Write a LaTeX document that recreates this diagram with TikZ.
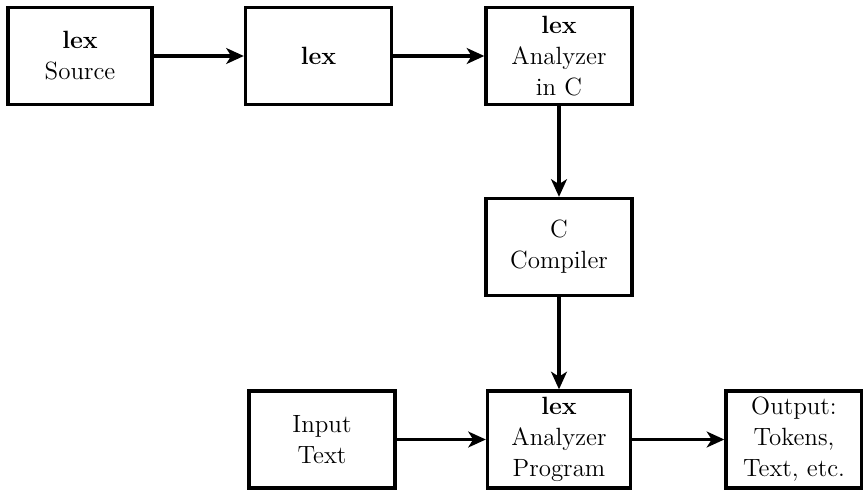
\documentclass[tikz,border=0pt]{standalone}
\usepackage{tikz}
\usetikzlibrary{arrows.meta}

\tikzset{
  stagebox/.style={draw, line width=1.9pt, minimum width=2.92cm, minimum height=1.94cm,
    align=center, inner sep=0pt, font=\fontsize{14.2}{17.6}\selectfont},
  flow/.style={line width=1.8pt, -{Stealth[length=10pt, width=9pt, inset=2.8pt]}}
}

\begin{document}
\begin{tikzpicture}
  \useasboundingbox (0,0) rectangle (17.26,9.78);

  % Top row
  \node[stagebox, minimum width=2.88cm] (src) at (1.60,8.66) {\textbf{lex}\\Source};
  \node[stagebox] (lexprog) at (6.37,8.66) {\textbf{lex}};
  \node[stagebox] (anac) at (11.18,8.66) {\textbf{lex}\\Analyzer\\in C};

  % Middle
  \node[stagebox] (cc) at (11.18,4.84) {C\\Compiler};

  % Bottom row
  \node[stagebox] (input) at (6.44,0.99) {Input\\Text};
  \node[stagebox, minimum width=2.86cm] (prog) at (11.18,0.99) {\textbf{lex}\\Analyzer\\Program};
  \node[stagebox, minimum width=2.72cm] (out) at (15.88,0.99) {Output:\\Tokens,\\Text, etc.};

  % Connectors
  \draw[flow] (src) -- (lexprog);
  \draw[flow] (lexprog) -- (anac);
  \draw[flow] (anac) -- (cc);
  \draw[flow] (cc) -- (prog);
  \draw[flow] (input) -- (prog);
  \draw[flow] (prog) -- (out);
\end{tikzpicture}
\end{document}
